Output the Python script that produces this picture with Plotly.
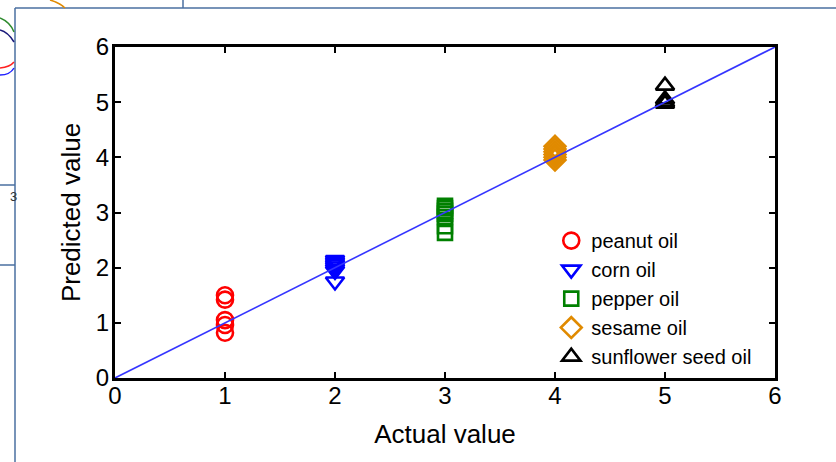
import plotly.graph_objects as go

# ---- data ----
oils = ["peanut oil", "corn oil", "pepper oil", "sesame oil", "sunflower seed oil"]
actual_values = [1, 2, 3, 4, 5]
predicted_peanut = [1.5, 1.42, 1.05, 0.96, 0.82]
predicted_corn = [2.14, 2.1, 2.06, 2.02, 1.98, 1.94, 1.75]
predicted_pepper = [3.12, 3.08, 3.03, 2.98, 2.92, 2.75, 2.63]
predicted_sesame = [4.2, 4.15, 4.1, 4.05, 4.0, 3.95]
predicted_sunflower = [5.3, 5.05, 5.0, 4.97]
predicted_sets = [predicted_peanut, predicted_corn, predicted_pepper,
                  predicted_sesame, predicted_sunflower]
ideal_line = [0, 6]
tick_values = [0, 1, 2, 3, 4, 5, 6]

symbols = ["circle-open", "triangle-down-open", "square-open", "diamond-open", "triangle-up-open"]
colors = ["#ff0000", "#0000ff", "#008000", "#e08a00", "#000000"]
sizes = [16, 16, 14, 16, 16]

FONT = "Liberation Sans, Arial, sans-serif"
W, H = 836, 462
ML, MR, MT, MB = 115, 61, 47, 84
PW, PH = W - ML - MR, H - MT - MB

fig = go.Figure()
for name, x, ys, sym, col, sz in zip(oils, actual_values, predicted_sets, symbols, colors, sizes):
    fig.add_trace(go.Scatter(
        x=[x] * len(ys), y=ys, mode="markers", name=name,
        marker=dict(symbol=sym, size=sz, color=col, line=dict(width=2.6, color=col)),
        cliponaxis=False,
    ))
fig.add_trace(go.Scatter(x=ideal_line, y=ideal_line, mode="lines", showlegend=False,
                         line=dict(color="#3535ff", width=1.6), cliponaxis=False))


def px(x):
    return (x - ML) / PW


def py(y):
    return (H - MB - y) / PH


frame_col = "#4a6fa0"
shapes = []
for (x0, y0, x1, y1) in [(15, 8, 836, 8), (15, 8, 15, 462), (183, 0, 183, 8),
                         (0, 185, 15, 185), (0, 265, 15, 265)]:
    shapes.append(dict(type="line", xref="paper", yref="paper",
                       x0=px(x0), y0=py(y0), x1=px(x1), y1=py(y1),
                       line=dict(color=frame_col, width=1.5)))


def arc(p0, c, p1, col):
    return dict(type="path", xref="paper", yref="paper",
                path=f"M {px(p0[0])},{py(p0[1])} Q {px(c[0])},{py(c[1])} {px(p1[0])},{py(p1[1])}",
                line=dict(color=col, width=1.5))


shapes += [
    arc((0, 18), (10, 22), (14, 32), "#2e8b2e"),
    arc((0, 30), (8, 32), (14, 42), "#1a1a7a"),
    arc((0, 68), (10, 67), (14, 62), "#ff2020"),
    arc((0, 75), (10, 75), (14, 68), "#2020ff"),
    arc((50, 0), (60, 3), (65, 8), "#e08a00"),
]

fig.update_layout(
    width=W, height=H,
    margin=dict(l=ML, r=MR, t=MT, b=MB),
    paper_bgcolor="white", plot_bgcolor="white",
    font=dict(family=FONT, color="black"),
    shapes=shapes,
    annotations=[dict(text="3", xref="paper", yref="paper", x=px(8), y=py(196),
                      showarrow=False, font=dict(size=13, color="#333333", family=FONT))],
    legend=dict(x=0.661, y=0.474, xanchor="left", yanchor="top",
                bgcolor="rgba(0,0,0,0)", font=dict(size=20, family=FONT),
                tracegroupgap=0),
    showlegend=True,
)
axis_common = dict(range=[0, 6], tickvals=tick_values, showgrid=False, zeroline=False,
                   showline=True, linecolor="black", linewidth=3, mirror="allticks",
                   ticks="inside", ticklen=6, tickwidth=2, tickcolor="black",
                   tickfont=dict(size=24, family=FONT, color="black"))
fig.update_xaxes(**axis_common, ticklabelstandoff=-6,
                 title=dict(text="Actual value", font=dict(size=26), standoff=18))
fig.update_yaxes(**axis_common, ticklabelstandoff=-2,
                 title=dict(text="Predicted value", font=dict(size=26), standoff=8))

fig.write_html("out.html")
